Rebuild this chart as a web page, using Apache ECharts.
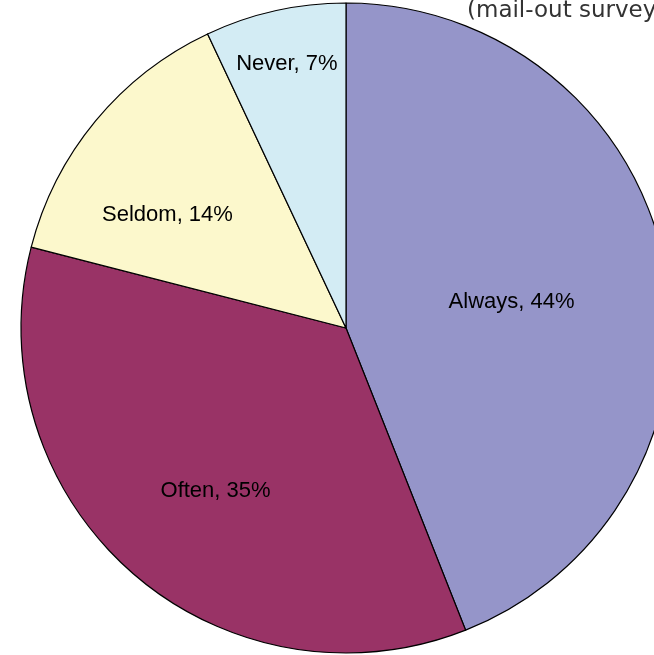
<!DOCTYPE html>
<html lang="en">
<head>
<meta charset="utf-8">
<title>Pie</title>
<script src="https://cdn.jsdelivr.net/npm/echarts@6/dist/echarts.min.js"></script>
<style>
  html, body { margin: 0; padding: 0; background: #fff; }
  #main { width: 654px; height: 655px; }
</style>
</head>
<body>
<div id="main"></div>
<script>
var categories = ['Always', 'Often', 'Seldom', 'Never'];
var shares = [44, 35, 14, 7];
var sliceColors = ['#9595c9', '#993366', '#fcf8cc', '#d3ecf4'];
// nudge labels off the default inside spot to where the original puts them
var labelOffsets = [[3, 5], [-21, 39], [-51, -8], [-23, -103]];

var myChart = echarts.init(document.getElementById('main'));

var option = {
    animation: false,
    title: {
        text: '(mail-out survey)',
        left: 467,
        top: 0,
        padding: 0,
        textStyle: {
            fontFamily: 'DejaVu Sans',
            fontWeight: 'normal',
            fontSize: 23,
            color: '#333'
        }
    },
    series: [{
        type: 'pie',
        center: [346, 328],
        radius: [0, 325],
        startAngle: 90,
        clockwise: true,
        label: {
            show: true,
            position: 'inside',
            fontFamily: 'Liberation Sans',
            fontSize: 22,
            color: '#000',
            formatter: function (p) { return p.name + ', ' + p.value + '%'; }
        },
        labelLine: { show: false },
        itemStyle: { borderColor: '#000', borderWidth: 1.2 },
        emphasis: { disabled: true },
        data: categories.map(function (c, i) {
            return {
                name: c,
                value: shares[i],
                itemStyle: { color: sliceColors[i] },
                label: { offset: labelOffsets[i] }
            };
        })
    }]
};

myChart.setOption(option);
</script>
</body>
</html>
